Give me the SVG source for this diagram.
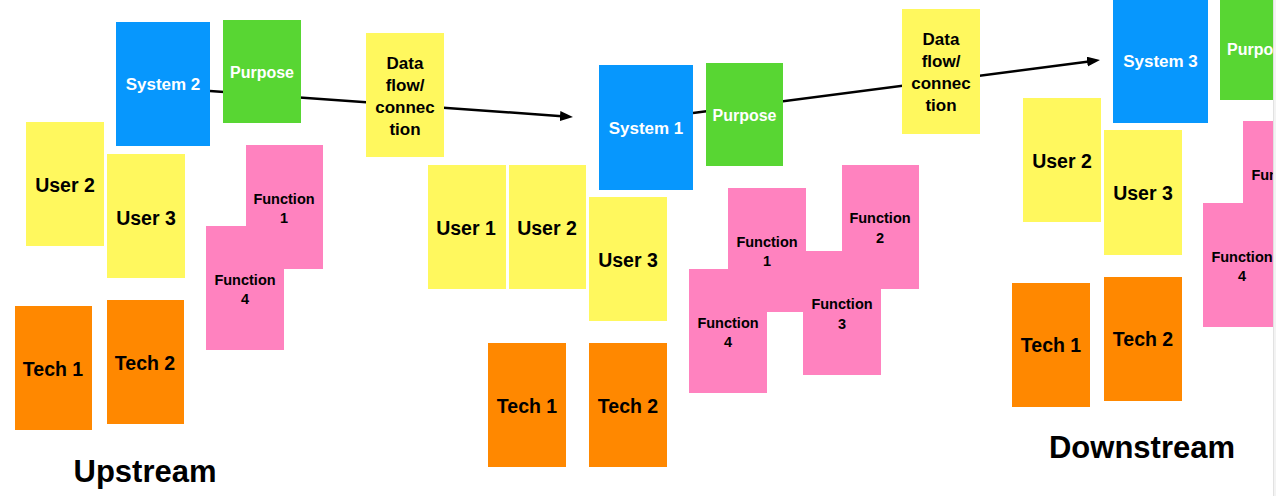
<svg xmlns="http://www.w3.org/2000/svg" width="1276" height="496" viewBox="0 0 1276 496">
<defs>
<style>
.y{fill:#FFF85E}
.b{fill:#0797FD}
.g{fill:#58D633}
.p{fill:#FF82BF}
.o{fill:#FF8800}
text{font-family:"Liberation Sans",Arial,Helvetica,sans-serif;font-weight:bold;text-anchor:middle}
.tw{fill:#ffffff;font-size:17px}
.tp{fill:#ffffff;font-size:16px}
.tl{fill:#000000;font-size:19.5px}
.tf{fill:#000000;font-size:14.5px}
.td{fill:#000000;font-size:17px}
.tt{fill:#000000;font-size:31px}
.c{stroke:#000000;stroke-width:2.5;fill:none}
</style>
<marker id="ah" markerUnits="userSpaceOnUse" markerWidth="14" markerHeight="12" refX="2" refY="5" orient="auto">
<path d="M0,0 L13,5 L0,10 z" fill="#000000"/>
</marker>
<clipPath id="cl"><rect x="0" y="0" width="1273" height="496"/></clipPath>
</defs>
<rect x="0" y="0" width="1276" height="496" fill="#ffffff"/>
<g clip-path="url(#cl)">
<g id="connectors">
<line class="c" x1="210" y1="91" x2="562" y2="116.2" marker-end="url(#ah)"/>
<line class="c" x1="693" y1="113" x2="1089.1" y2="61.4" marker-end="url(#ah)"/>
</g>
<!-- Upstream cluster -->
<g id="up-system2"><rect class="b" x="116" y="22" width="94" height="124"/><text class="tw" x="163" y="90">System 2</text></g>
<g id="up-purpose"><rect class="g" x="223" y="20" width="78" height="103"/><text class="tp" x="262" y="77.5">Purpose</text></g>
<g id="up-user2"><rect class="y" x="26" y="122" width="78" height="124"/><text class="tl" x="65" y="191.5">User 2</text></g>
<g id="up-user3"><rect class="y" x="107" y="154" width="78" height="124"/><text class="tl" x="146" y="224.5">User 3</text></g>
<g id="up-function1"><rect class="p" x="246" y="145" width="77" height="124"/><text class="tf" x="284" y="204">Function</text><text class="tf" x="284" y="223">1</text></g>
<g id="up-function4"><rect class="p" x="206" y="226" width="78" height="124"/><text class="tf" x="245" y="285">Function</text><text class="tf" x="245" y="304">4</text></g>
<g id="up-tech1"><rect class="o" x="15" y="306" width="77" height="124"/><text class="tl" x="53" y="375.5">Tech 1</text></g>
<g id="up-tech2"><rect class="o" x="107" y="300" width="77" height="124"/><text class="tl" x="145" y="369.5">Tech 2</text></g>
<g id="label-upstream"><text class="tt" x="145" y="482">Upstream</text></g>
<!-- Data flow 1 -->
<g id="dataflow1"><rect class="y" x="366" y="33" width="78" height="124"/><text class="td" x="405" y="69">Data</text><text class="td" x="405" y="91">flow/</text><text class="td" x="405" y="113">connec</text><text class="td" x="405" y="135">tion</text></g>
<!-- Middle cluster -->
<g id="mid-system1"><rect class="b" x="599" y="65" width="94" height="125"/><text class="tw" x="646" y="134">System 1</text></g>
<g id="mid-purpose"><rect class="g" x="706" y="63" width="77" height="103"/><text class="tp" x="744.5" y="120.5">Purpose</text></g>
<g id="mid-user1"><rect class="y" x="428" y="165" width="78" height="124"/><text class="tl" x="466" y="234.5">User 1</text></g>
<g id="mid-user2"><rect class="y" x="509" y="165" width="77" height="124"/><text class="tl" x="547" y="234.5">User 2</text></g>
<g id="mid-user3"><rect class="y" x="589" y="197" width="78" height="124"/><text class="tl" x="628" y="266.5">User 3</text></g>
<g id="mid-tech1"><rect class="o" x="488" y="343" width="78" height="124"/><text class="tl" x="527" y="412.5">Tech 1</text></g>
<g id="mid-tech2"><rect class="o" x="589" y="343" width="78" height="124"/><text class="tl" x="628" y="412.5">Tech 2</text></g>
<g id="mid-function2"><rect class="p" x="842" y="165" width="77" height="124"/><text class="tf" x="880" y="223">Function</text><text class="tf" x="880" y="243">2</text></g>
<g id="mid-function1"><rect class="p" x="728" y="188" width="78" height="124"/><text class="tf" x="767" y="247">Function</text><text class="tf" x="767" y="266">1</text></g>
<g id="mid-function3"><rect class="p" x="803" y="251" width="78" height="124"/><text class="tf" x="842" y="309">Function</text><text class="tf" x="842" y="329">3</text></g>
<g id="mid-function4"><rect class="p" x="689" y="269" width="78" height="124"/><text class="tf" x="728" y="328">Function</text><text class="tf" x="728" y="347">4</text></g>
<!-- Data flow 2 -->
<g id="dataflow2"><rect class="y" x="902" y="9" width="78" height="125"/><text class="td" x="941" y="45">Data</text><text class="td" x="941" y="67">flow/</text><text class="td" x="941" y="89">connec</text><text class="td" x="941" y="111">tion</text></g>
<!-- Downstream cluster -->
<g id="down-system3"><rect class="b" x="1113" y="-2" width="95" height="125"/><text class="tw" x="1160.5" y="67">System 3</text></g>
<g id="down-purpose"><rect class="g" x="1220" y="-3" width="78" height="103"/><text class="tp" x="1259" y="55">Purpose</text></g>
<g id="down-user2"><rect class="y" x="1023" y="98" width="78" height="124"/><text class="tl" x="1062" y="168">User 2</text></g>
<g id="down-user3"><rect class="y" x="1104" y="130" width="78" height="125"/><text class="tl" x="1143" y="200">User 3</text></g>
<g id="down-function1"><rect class="p" x="1243" y="121" width="78" height="124"/><text class="tf" x="1282" y="180">Function</text><text class="tf" x="1282" y="199">1</text></g>
<g id="down-function4"><rect class="p" x="1203" y="203" width="78" height="124"/><text class="tf" x="1242" y="262">Function</text><text class="tf" x="1242" y="281">4</text></g>
<g id="down-tech1"><rect class="o" x="1012" y="283" width="78" height="124"/><text class="tl" x="1051" y="352">Tech 1</text></g>
<g id="down-tech2"><rect class="o" x="1104" y="277" width="78" height="124"/><text class="tl" x="1143" y="346">Tech 2</text></g>
<g id="label-downstream"><text class="tt" x="1142" y="458">Downstream</text></g>
</g>
<rect x="1273" y="0" width="3" height="496" fill="#f3f3f3"/>
<line x1="1273.5" y1="0" x2="1273.5" y2="496" stroke="#e2e2e2" stroke-width="1"/>
</svg>
